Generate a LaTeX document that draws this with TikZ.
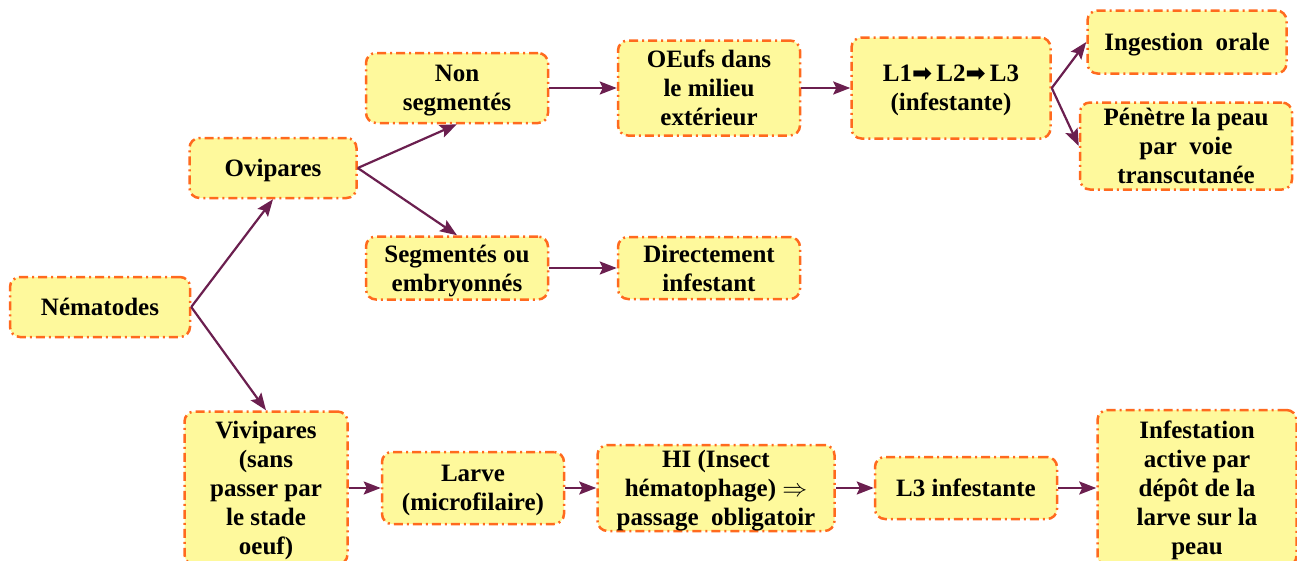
\documentclass[tikz,border=0pt]{standalone}
\usepackage{fontspec}
\setmainfont{Liberation Serif}
\newfontfamily\symfont{DejaVu Sans}
\usetikzlibrary{arrows.meta}
\definecolor{boxfill}{HTML}{FEF99C}
\definecolor{boxline}{HTML}{FF6A1E}
\definecolor{arrcol}{HTML}{6B1F4F}
\tikzset{
  nbox/.style={draw=boxline, fill=boxfill, line width=2.5pt,
    dash pattern=on 9pt off 4pt on 2pt off 4pt,
    rounded corners=10pt, align=center, inner sep=0pt, text depth=0pt,
    font=\fontsize{25}{29}\selectfont\bfseries},
  arr/.style={draw=arrcol, line width=2.2pt, -{Stealth[length=17pt,width=13pt,inset=3pt]}}
}
\newcommand{\harr}{{\symfont\fontsize{24}{29}\selectfont ➡}}
\newcommand{\dblarr}{{\fontsize{31}{29}\selectfont$\Rightarrow$}}
\begin{document}
\begin{tikzpicture}[x=1pt,y=-1pt]
\useasboundingbox (0,0) rectangle (1297,560);
\clip (0,0) rectangle (1297,560);
\node[nbox, minimum width=180pt, minimum height=60pt] (nem) at (100,307) {Nématodes};
\node[nbox, minimum width=167pt, minimum height=60pt] (ovi) at (273,168) {Ovipares};
\node[nbox, minimum width=182pt, minimum height=70pt] (nons) at (457,88) {Non\\segmentés};
\node[nbox, minimum width=182pt, minimum height=63pt] (seg) at (457,268) {Segmentés ou\\embryonnés};
\node[nbox, minimum width=182pt, minimum height=95pt] (oeuf) at (709,88) {OEufs dans\\le milieu\\extérieur};
\node[nbox, minimum width=182pt, minimum height=62pt] (dir) at (709,268) {Directement\\infestant};
\node[nbox, minimum width=199pt, minimum height=101pt] (l1) at (951,88) {L1\harr\,L2\harr\,L3\\(infestante)};
\node[nbox, minimum width=199pt, minimum height=63pt] (ing) at (1187,42) {Ingestion\ \ orale};
\node[nbox, minimum width=212pt, minimum height=87pt] (pen) at (1186,146) {Pénètre la peau\\par\ \ voie\\transcutanée};
\node[nbox, minimum width=163pt, minimum height=153pt] (viv) at (266,488) {Vivipares\\(sans\\passer par\\le stade\\oeuf)};
\node[nbox, minimum width=182pt, minimum height=72pt] (lar) at (473,488) {Larve\\(microfilaire)};
\node[nbox, minimum width=237pt, minimum height=86pt] (hi) at (716,488) {HI (Insect\\hématophage) \dblarr\\passage\ \ obligatoir};
\node[nbox, minimum width=182pt, minimum height=62pt] (l3) at (966,488) {L3 infestante};
\node[nbox, minimum width=199pt, minimum height=156pt] (inf) at (1197,488) {Infestation\\active par\\dépôt de la\\larve sur la\\peau};
\draw[arr] (nem.east) -- (ovi.south);
\draw[arr] (nem.east) -- (viv.north);
\draw[arr] (ovi.east) -- (nons.south);
\draw[arr] (ovi.east) -- (seg.north);
\draw[arr] (nons.east) -- (oeuf.west);
\draw[arr] (oeuf.east) -- (l1.west);
\draw[arr] (l1.east) -- (ing.west);
\draw[arr] (l1.east) -- (pen.west);
\draw[arr] (seg.east) -- (dir.west);
\draw[arr] (viv.east) -- (lar.west);
\draw[arr] (lar.east) -- (hi.west);
\draw[arr] (hi.east) -- (l3.west);
\draw[arr] (l3.east) -- (inf.west);
\end{tikzpicture}
\end{document}
